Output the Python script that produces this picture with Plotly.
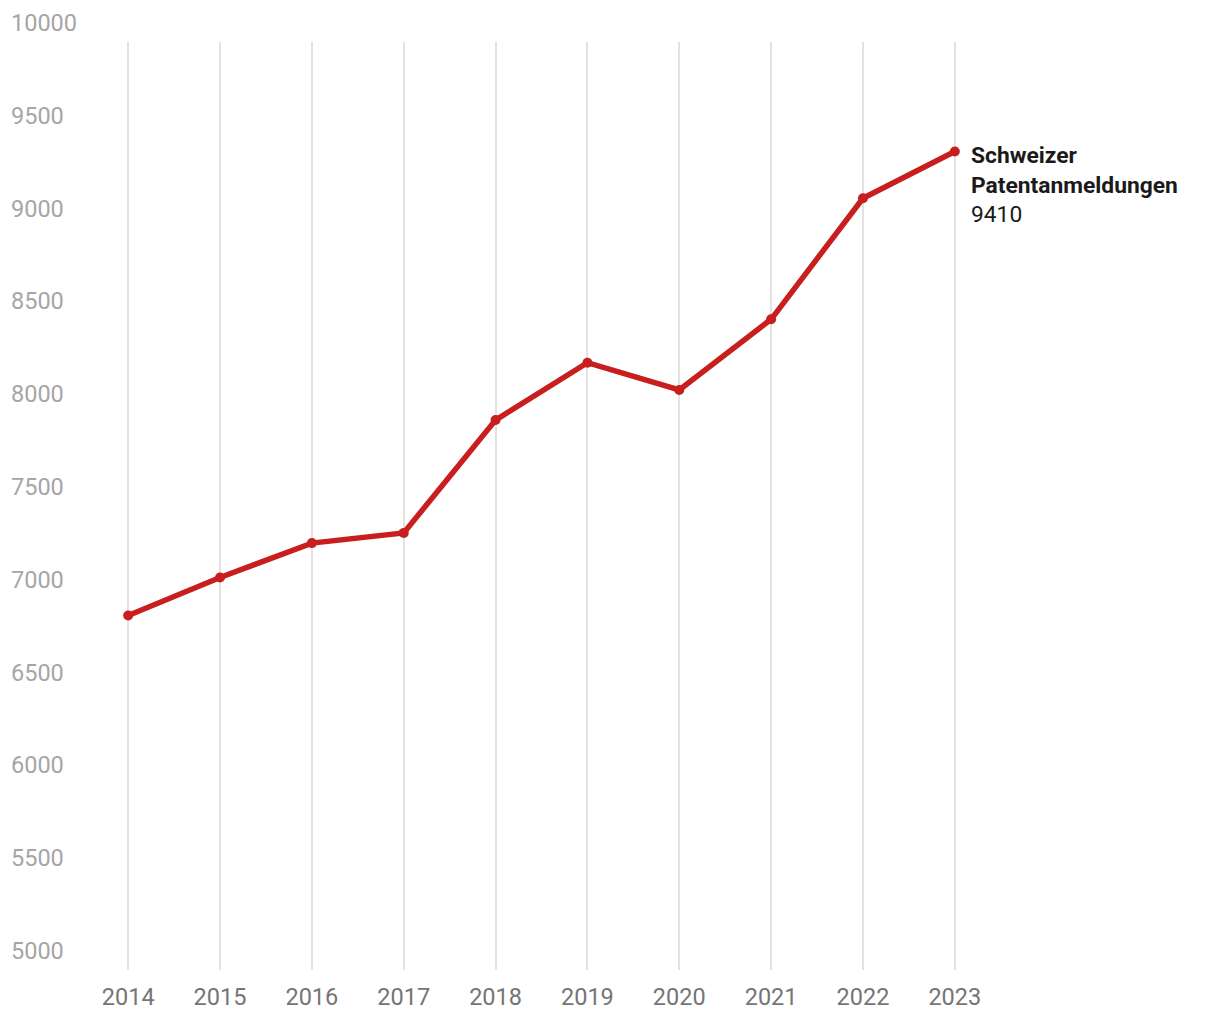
import plotly.graph_objects as go

years = [2014, 2015, 2016, 2017, 2018, 2019, 2020, 2021, 2022, 2023]
applications = [6910, 7115, 7300, 7355, 7963, 8272, 8125, 8506, 9158, 9410]
y_ticks = [5000, 5500, 6000, 6500, 7000, 7500, 8000, 8500, 9000, 9500, 10000]
series_label = "<b>Schweizer<br>Patentanmeldungen</b><br>9410"

RED = "#c81e1e"
FONT = "Roboto"

fig = go.Figure()
fig.add_trace(go.Scatter(
    x=years, y=applications, mode="lines+markers",
    line=dict(color=RED, width=5.5),
    marker=dict(color=RED, size=10),
    cliponaxis=False, showlegend=False, hoverinfo="x+y",
))

# y tick labels placed above their values, left-aligned at the page edge
for v in y_ticks:
    fig.add_annotation(
        x=0, xref="paper", y=v, yref="y", text=str(v), showarrow=False,
        xanchor="left", yanchor="middle", xshift=-110, yshift=19,
        font=dict(family=FONT, size=23.5, color="#a6a6a6"),
    )

fig.add_annotation(
    x=years[-1], y=applications[-1], xref="x", yref="y", text=series_label,
    showarrow=False, xanchor="left", yanchor="top", align="left",
    xshift=14, yshift=12,
    font=dict(family=FONT, size=22.8, color="#1a1a1a"),
)

fig.update_layout(
    width=1220, height=1020,
    margin=dict(l=110.8, r=263.8, t=34, b=58),
    paper_bgcolor="white", plot_bgcolor="white",
    font=dict(family=FONT),
    xaxis=dict(
        range=[2013.9, 2023.1], tickvals=years, ticktext=[str(y) for y in years],
        showgrid=True, gridcolor="#e2e2e2", gridwidth=1.5,
        showline=False, zeroline=False, ticks="",
        ticklabelstandoff=10,
        tickfont=dict(family=FONT, size=23.5, color="#757575"),
    ),
    yaxis=dict(
        range=[5000, 10000], tickvals=y_ticks, showticklabels=False,
        showgrid=False, zeroline=False, showline=False, ticks="",
    ),
)

fig.write_html("out.html")
